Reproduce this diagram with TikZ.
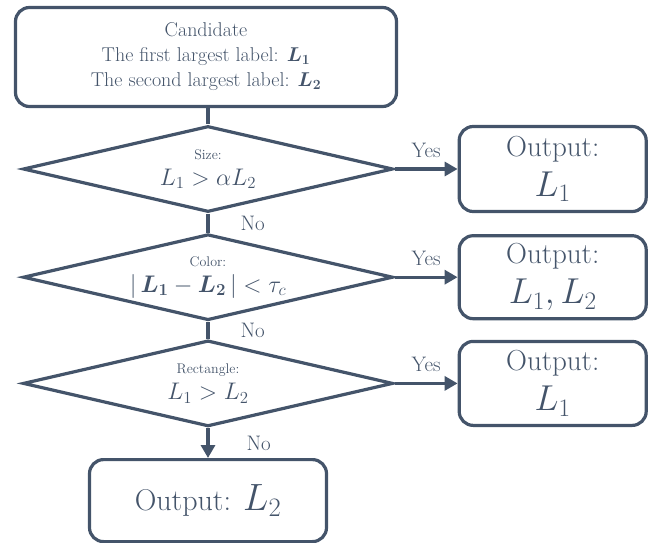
\documentclass[tikz,border=0pt]{standalone}
\usepackage{fix-cm}
\usepackage{amsmath, amssymb}
\usepackage{fontspec}
\usetikzlibrary{shapes.geometric,arrows.meta,positioning}
\definecolor{SlateBlue}{RGB}{68, 84, 106}

\begin{document}
\begin{tikzpicture}[
    x=1pt, y=1pt,
    node distance=17pt,
    box/.style={draw=SlateBlue, line width=3.2pt, rectangle, rounded corners=14pt, align=center, text=SlateBlue, inner sep=0pt},
    test/.style={draw=SlateBlue, line width=3.2pt, diamond, aspect=4.2, minimum width=370pt, minimum height=86pt, align=center, text=SlateBlue, inner sep=0pt, font=\fontsize{24}{26}\selectfont},
    arrow/.style={-{Triangle[length=13pt, width=14pt]}, line width=3.2pt, SlateBlue},
    link/.style={line width=3.2pt, SlateBlue},
    answer/.style={font=\fontsize{21}{22}\selectfont, text=SlateBlue, inner sep=1pt}
  ]
    \useasboundingbox (0,0) rectangle (656,-543);
    \node[box, minimum width=381pt, minimum height=99pt, font=\fontsize{20}{25}\selectfont] (cand) at (206,-57) {Candidate\\The first largest label: $\boldsymbol{L_1}$\\The second largest label: $\boldsymbol{L_2}$};
    \node[test] (size) at (208,-169) {{\fontsize{14}{16}\selectfont Size:}\\$L_1 > \alpha L_2$};
    \node[test, below=19pt of size] (color) {{\fontsize{14}{16}\selectfont Color:}\\$|\,\boldsymbol{L_1} - \boldsymbol{L_2}\,| < \tau_c$};
    \node[test, below=17pt of color] (rect) {{\fontsize{14}{16}\selectfont Rectangle:}\\$L_1 > L_2$};
    \node[box, right=63pt of size, minimum width=187pt, minimum height=85pt, font=\fontsize{29}{40}\selectfont] (out1) {Output:\\{\fontsize{36}{38}\selectfont $L_1$}};
    \node[box, right=63pt of color, minimum width=187pt, minimum height=83pt, font=\fontsize{29}{40}\selectfont] (out2) {Output:\\{\fontsize{36}{38}\selectfont $L_1, L_2$}};
    \node[box, right=63pt of rect, minimum width=187pt, minimum height=84pt, font=\fontsize{29}{40}\selectfont] (out3) {Output:\\{\fontsize{36}{38}\selectfont $L_1$}};
    \node[box, below=30pt of rect, minimum width=237pt, minimum height=82pt, font=\fontsize{30}{34}\selectfont] (out4) {Output: {\fontsize{38}{40}\selectfont $L_2$}};

    \draw[link] (cand.south -| size.north) -- (size.north);
    \draw[arrow] (size) -- node[answer, above=9pt] {Yes} (out1);
    \draw[arrow] (color) -- node[answer, above=9pt] {Yes} (out2);
    \draw[arrow] (rect) -- node[answer, above=9pt] {Yes} (out3);
    \draw[link] (size) -- node[answer, right=30pt] {No} (color);
    \draw[link] (color) -- node[answer, right=30pt] {No} (rect);
    \draw[arrow] (rect) -- node[answer, right=36pt] {No} (out4);
  \end{tikzpicture}
\end{document}
